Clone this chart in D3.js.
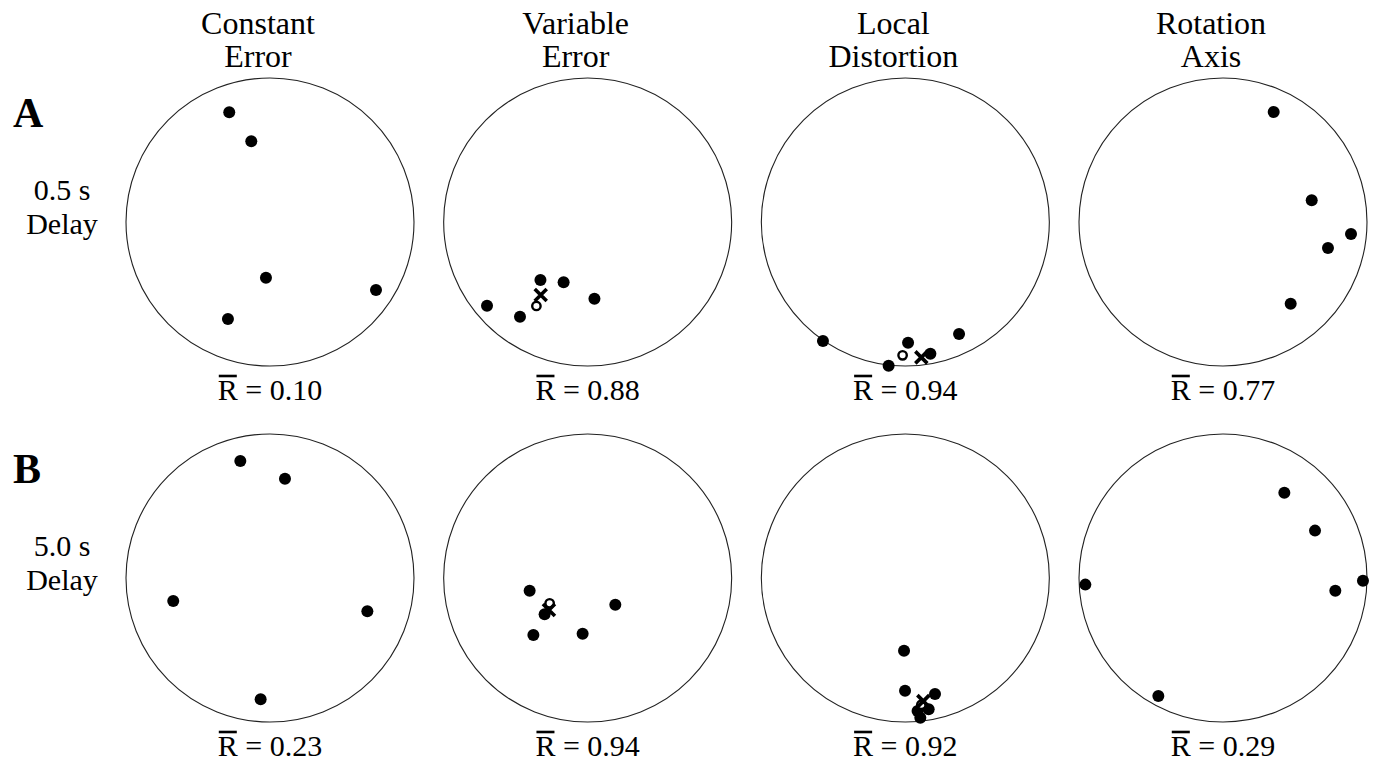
<!DOCTYPE html>
<html><head><meta charset="utf-8">
<script src="https://cdn.jsdelivr.net/npm/d3@7"></script>
<style>body{margin:0;background:#fff}svg{display:block}text{font-family:"Liberation Serif","Times New Roman",serif;fill:#000}</style>
</head><body><svg id="c" width="1377" height="766"></svg>
<script>
// ---- data (unit-circle coordinates: x right, y up) ----
const columns = ["Constant Error", "Variable Error", "Local Distortion", "Rotation Axis"];
const titleLine1 = ["Constant", "Variable", "Local", "Rotation"];
const titleLine2 = ["Error", "Error", "Distortion", "Axis"];
const rowKeys = ["A", "B"];
const delayLabels = ["0.5 s", "5.0 s"];
const rbarA = [0.10, 0.88, 0.94, 0.77];
const rbarB = [0.23, 0.94, 0.92, 0.29];

const A_constant = [[-0.283,0.762],[-0.130,0.560],[-0.028,-0.387],[0.736,-0.472],[-0.292,-0.674]];
const A_variable = [[-0.328,-0.403],[-0.167,-0.419],[-0.699,-0.581],[-0.470,-0.658],[0.047,-0.533]];
const A_local    = [[-0.572,-0.826],[0.019,-0.838],[0.373,-0.778],[-0.116,-0.998],[0.174,-0.915]];
const A_rotation = [[0.352,0.764],[0.616,0.151],[0.889,-0.083],[0.729,-0.181],[0.470,-0.567]];
const B_constant = [[-0.206,0.813],[0.104,0.690],[-0.672,-0.160],[0.676,-0.231],[-0.065,-0.842]];
const B_variable = [[-0.403,-0.088],[0.192,-0.185],[-0.377,-0.396],[-0.035,-0.387],[-0.299,-0.252]];
const B_local    = [[-0.009,-0.505],[-0.002,-0.783],[0.206,-0.806],[0.085,-0.924],[0.162,-0.912],[0.104,-0.970]];
const B_rotation = [[0.426,0.592],[0.639,0.329],[-0.956,-0.046],[0.780,-0.088],[0.972,-0.019],[-0.449,-0.819]];

// mean markers: open circle (o) and cross (x), only for Variable Error and Local Distortion
const meanO = {A_variable:[-0.356,-0.583], A_local:[-0.019,-0.926], B_variable:[-0.264,-0.176], B_local:[0.111,-0.880]};
const meanX = {A_variable:[-0.326,-0.507], A_local:[0.111,-0.940], B_variable:[-0.269,-0.222], B_local:[0.125,-0.855]};

const panels = {
  A: [A_constant, A_variable, A_local, A_rotation],
  B: [B_constant, B_variable, B_local, B_rotation]
};
const panelKeys = {A:["A_constant","A_variable","A_local","A_rotation"], B:["B_constant","B_variable","B_local","B_rotation"]};
const rbars = {A: rbarA, B: rbarB};

// ---- layout ----
const svg = d3.select("#c");
const R = 144;
const colX = d3.scalePoint().domain(columns).range([270, 1223]);
const rowY = d3.scalePoint().domain(rowKeys).range([222, 578]);
const ux = d3.scaleLinear().domain([-1, 1]).range([-R, R]);
const uy = d3.scaleLinear().domain([-1, 1]).range([R, -R]);

// column titles
columns.forEach((c, i) => {
  svg.append("text").attr("text-anchor", "middle").attr("font-size", 32)
    .attr("x", colX(c) - 12).attr("y", 34).text(titleLine1[i]);
  svg.append("text").attr("text-anchor", "middle").attr("font-size", 32)
    .attr("x", colX(c) - 12).attr("y", 67).text(titleLine2[i]);
});

rowKeys.forEach((rk, ri) => {
  const cy = rowY(rk);
  // row letter
  svg.append("text").attr("x", 13).attr("y", cy - 95).attr("font-size", 42).attr("font-weight", "bold").text(rk);
  // delay label
  svg.append("text").attr("text-anchor", "middle").attr("font-size", 30)
    .attr("x", 62).attr("y", cy - 22).text(delayLabels[ri]);
  svg.append("text").attr("text-anchor", "middle").attr("font-size", 30)
    .attr("x", 62).attr("y", cy + 12).text("Delay");

  columns.forEach((c, ci) => {
    const g = svg.append("g").attr("transform", `translate(${colX(c)},${cy})`);
    g.append("circle").attr("r", R).attr("fill", "none").attr("stroke", "#222").attr("stroke-width", 1.1);
    g.selectAll("circle.pt").data(panels[rk][ci]).join("circle").attr("class", "pt")
      .attr("cx", d => ux(d[0])).attr("cy", d => uy(d[1])).attr("r", 6).attr("fill", "#000");
    const key = panelKeys[rk][ci];
    if (meanO[key]) {
      const o = meanO[key];
      g.append("circle").attr("cx", ux(o[0])).attr("cy", uy(o[1])).attr("r", 4.2)
        .attr("fill", "#fff").attr("stroke", "#000").attr("stroke-width", 2.4);
    }
    if (meanX[key]) {
      const m = meanX[key], mx = ux(m[0]), my = uy(m[1]), s = 6;
      g.append("path").attr("d", `M${mx-s},${my-s}L${mx+s},${my+s}M${mx-s},${my+s}L${mx+s},${my-s}`)
        .attr("stroke", "#000").attr("stroke-width", 3.6).attr("fill", "none");
    }
    // R-bar label
    const lbl = svg.append("text").attr("text-anchor", "middle").attr("font-size", 30)
      .attr("x", colX(c)).attr("y", cy + R + 34)
      .text("R = " + d3.format(".2f")(rbars[rk][ci]));
    const node = lbl.node();
    const bb = node.getBBox();
    const rw = node.getSubStringLength(0, 1);
    svg.append("line").attr("x1", bb.x + 1).attr("x2", bb.x + rw - 1)
      .attr("y1", cy + R + 34 - 24).attr("y2", cy + R + 34 - 24)
      .attr("stroke", "#000").attr("stroke-width", 2.6);
  });
});
</script></body></html>
